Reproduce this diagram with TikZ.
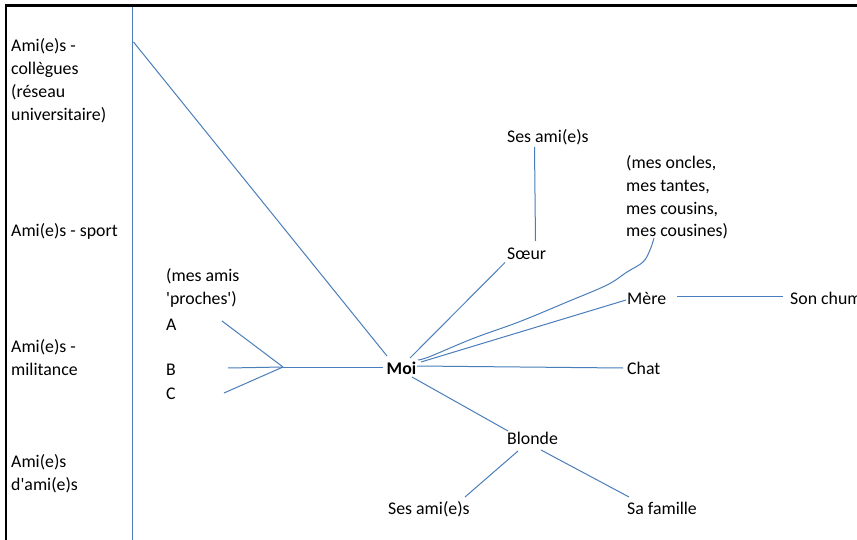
\documentclass[tikz,border=0pt]{standalone}
\usepackage{fontspec}
\setmainfont{Carlito}[Ligatures=TeXOff]
\definecolor{linkblue}{RGB}{74,126,187}
\begin{document}
\begin{tikzpicture}[x=1pt,y=-1pt,
  lbl/.style={inner sep=0pt, anchor=base west, align=left,
    font=\fontsize{17.8pt}{23pt}\selectfont},
  link/.style={draw=linkblue, line width=1pt},
  edge/.style={line width=2.6pt, black}]
\useasboundingbox (0,0) rectangle (857,540);
\fill[white] (0,0) rectangle (857,540);

% frame and axis
\coordinate (ftl) at (6,5.5);
\coordinate (ftr) at (857,5.5);
\coordinate (fbl) at (6,540);
\draw[edge] (ftr) -- (ftl) -- (fbl);
\coordinate (axtop) at (132.3,7.5);
\coordinate (axbot) at (132.3,540);
\draw[link] (axtop) -- (axbot);

% circles of friends (multi-line nodes sit on their last baseline)
\node[lbl] (coll) at (11,121) {Ami(e)s -\\collègues\\(réseau\\universitaire)};
\node[lbl] (sport) at (11,237) {Ami(e)s - sport};
\node[lbl] (milit) at (11,375) {Ami(e)s -\\militance};
\node[lbl] (damis) at (11,490) {Ami(e)s\\d'ami(e)s};

% people
\node[lbl] (sesamisA) at (507,143) {Ses ami(e)s};
\node[lbl] (famille) at (626,237) {(mes oncles,\\mes tantes,\\mes cousins,\\mes cousines)};
\node[lbl] (soeur) at (507,260) {Sœur};
\node[lbl] (proches) at (166,305) {(mes amis\\'proches')};
\node[lbl] (a) at (166,330) {A};
\node[lbl] (b) at (166,375) {B};
\node[lbl] (c) at (166,399) {C};
\node[lbl, font=\fontsize{17.8pt}{23pt}\selectfont\bfseries] (moi) at (386.5,374) {Moi};
\node[lbl] (mere) at (627,304) {Mère};
\node[lbl] (chum) at (790,304) {Son chum};
\node[lbl] (chat) at (627,374) {Chat};
\node[lbl] (blonde) at (507,444) {Blonde};
\node[lbl] (sesamisB) at (388,514) {Ses ami(e)s};
\node[lbl] (safam) at (627,514) {Sa famille};

% connector ends
\coordinate (sesamisA-s) at (534.5,147);
\coordinate (soeur-n) at (535.5,241);
\coordinate (soeur-sw) at (505,262.5);
\coordinate (moi-nw) at (387,356);
\coordinate (moi-n) at (410,358);
\coordinate (moi-fam) at (418,360);
\coordinate (moi-ne) at (421,362);
\coordinate (moi-e) at (417,366);
\coordinate (moi-se) at (412,377);
\coordinate (moi-w) at (383,367);
\coordinate (famille-s) at (654,238);
\coordinate (mere-w) at (626,300);
\coordinate (mere-e) at (677,296);
\coordinate (chum-w) at (783,296);
\coordinate (chat-w) at (623,368);
\coordinate (blonde-nw) at (508,431);
\coordinate (blonde-sw) at (518,451);
\coordinate (blonde-se) at (541,450);
\coordinate (sesamisB-ne) at (465,497);
\coordinate (safam-nw) at (629,497);
\coordinate (hub) at (283,367);
\coordinate (a-e) at (222,321);
\coordinate (b-e) at (228,368);
\coordinate (c-e) at (224,393);
\coordinate (coll-e) at (133.5,42);

% connectors
\draw[link] (coll-e) -- (moi-nw);
\draw[link] (sesamisA-s) -- (soeur-n);
\draw[link] (soeur-sw) -- (moi-n);
\draw[link] plot[smooth, tension=0.6] coordinates
  {(moi-fam) (430,356.5) (473,338.5) (520,321.5) (567,302) (607,285)
   (627,272) (643,262) (650,250) (famille-s)};
\draw[link] (moi-ne) -- (mere-w);
\draw[link] (mere-e) -- (chum-w);
\draw[link] (moi-e) -- (chat-w);
\draw[link] (moi-se) -- (blonde-nw);
\draw[link] (blonde-sw) -- (sesamisB-ne);
\draw[link] (blonde-se) -- (safam-nw);
\draw[link] (moi-w) -- (hub);
\draw[link] (hub) -- (a-e);
\draw[link] (hub) -- (b-e);
\draw[link] (hub) -- (c-e);
\end{tikzpicture}
\end{document}
